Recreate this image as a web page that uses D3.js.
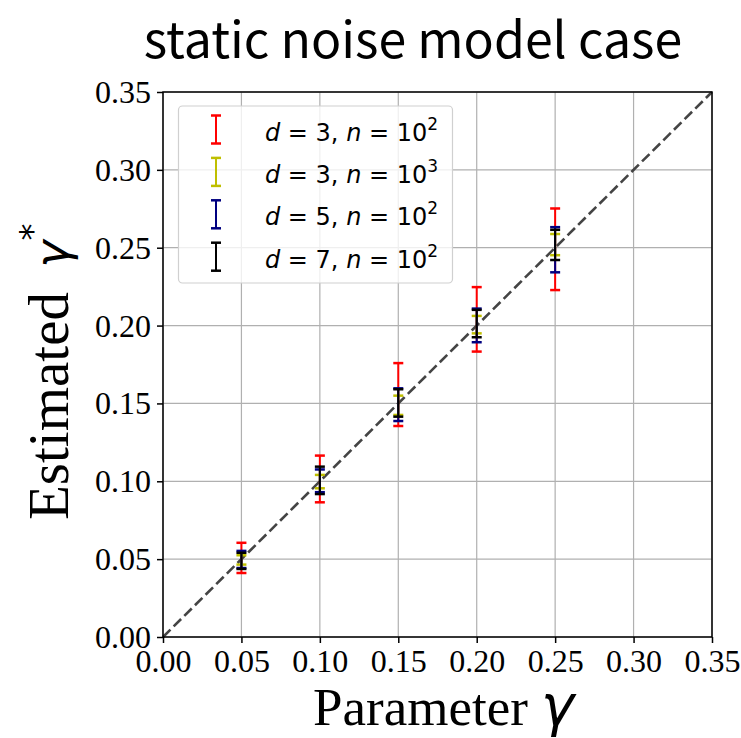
<!DOCTYPE html>
<html>
<head>
<meta charset="utf-8">
<script src="https://cdn.jsdelivr.net/npm/d3@7"></script>
<style>
  body { margin: 0; background: #fff; }
  svg { display: block; }
</style>
</head>
<body>
<svg width="741" height="738"></svg>
<script>

let svg = d3.select('svg');

// data: mean and half-width of each error bar
let params = [0.05, 0.10, 0.15, 0.20, 0.25];
let ticks = [0, 0.05, 0.10, 0.15, 0.20, 0.25, 0.30, 0.35];

let redMean    = [0.0508, 0.1015, 0.1557, 0.2040, 0.2490];
let redErr     = [0.0097, 0.0150, 0.0202, 0.0207, 0.0262];
let yellowMean = [0.0495, 0.0998, 0.1488, 0.2006, 0.2520];
let yellowErr  = [0.0030, 0.0043, 0.0062, 0.0056, 0.0068];
let blueMean   = [0.0498, 0.1003, 0.1492, 0.2001, 0.2487];
let blueErr    = [0.0055, 0.0073, 0.0105, 0.0108, 0.0145];
let blackMean  = [0.0489, 0.1006, 0.1503, 0.2013, 0.2518];
let blackErr   = [0.0052, 0.0088, 0.0088, 0.0088, 0.0097];

let series = [
    { d: 3, n: 2, color: '#ff0000', mean: redMean,    err: redErr },
    { d: 3, n: 3, color: '#bfbf00', mean: yellowMean, err: yellowErr },
    { d: 5, n: 2, color: '#000080', mean: blueMean,   err: blueErr },
    { d: 7, n: 2, color: '#000000', mean: blackMean,  err: blackErr }
];

let margin = { top: 92, right: 29, bottom: 101, left: 163 };
let width = +svg.attr('width');
let height = +svg.attr('height');

let x = d3.scaleLinear().domain([0, 0.35]).range([margin.left, width - margin.right]);
let y = d3.scaleLinear().domain([0, 0.35]).range([height - margin.bottom, margin.top]);

let serif = '"Liberation Serif", "Times New Roman", serif';
let sans = '"DejaVu Sans", sans-serif';

// grid
svg.append('g')
    .selectAll('line.vx')
    .data(ticks)
    .enter().append('line')
    .attr('x1', d => x(d)).attr('x2', d => x(d))
    .attr('y1', y(0)).attr('y2', y(0.35))
    .attr('stroke', '#b0b0b0').attr('stroke-width', 1.2);

svg.append('g')
    .selectAll('line.hy')
    .data(ticks)
    .enter().append('line')
    .attr('y1', d => y(d)).attr('y2', d => y(d))
    .attr('x1', x(0)).attr('x2', x(0.35))
    .attr('stroke', '#b0b0b0').attr('stroke-width', 1.2);

// y = x reference line
svg.append('line')
    .attr('x1', x(0)).attr('y1', y(0))
    .attr('x2', x(0.35)).attr('y2', y(0.35))
    .attr('stroke', '#444')
    .attr('stroke-width', 2.6)
    .attr('stroke-dasharray', '10.5,4.5');

// error bars
let capHalf = 5;
series.forEach(s => {
    let g = svg.append('g').attr('stroke', s.color);
    let pts = params.map((p, i) => ({ p: p, lo: s.mean[i] - s.err[i], hi: s.mean[i] + s.err[i] }));
    g.selectAll('line.bar')
        .data(pts)
        .enter().append('line')
        .attr('x1', d => x(d.p)).attr('x2', d => x(d.p))
        .attr('y1', d => y(d.lo)).attr('y2', d => y(d.hi))
        .attr('stroke-width', 2);
    ['lo', 'hi'].forEach(k => {
        g.selectAll('line.cap' + k)
            .data(pts)
            .enter().append('line')
            .attr('x1', d => x(d.p) - capHalf).attr('x2', d => x(d.p) + capHalf)
            .attr('y1', d => y(d[k])).attr('y2', d => y(d[k]))
            .attr('stroke-width', 2.5);
    });
});

// axes
let xAxis = svg.append('g')
    .attr('transform', 'translate(0,' + y(0) + ')')
    .call(d3.axisBottom(x).tickValues(ticks).tickFormat(d3.format('.2f')).tickSizeOuter(0).tickSize(6).tickPadding(4));
let yAxis = svg.append('g')
    .attr('transform', 'translate(' + x(0) + ',0)')
    .call(d3.axisLeft(y).tickValues(ticks).tickFormat(d3.format('.2f')).tickSizeOuter(0).tickSize(6).tickPadding(6));

[xAxis, yAxis].forEach(a => {
    a.select('.domain').remove();
    a.selectAll('.tick line').attr('stroke', '#000').attr('stroke-width', 1.5);
    a.selectAll('.tick text').attr('font-family', serif).attr('font-size', 32).attr('fill', '#000');
});
xAxis.selectAll('.tick text').attr('dy', '0.78em');
yAxis.selectAll('.tick text').attr('dy', '0.33em');

// frame
svg.append('rect')
    .attr('x', x(0)).attr('y', y(0.35))
    .attr('width', x(0.35) - x(0)).attr('height', y(0) - y(0.35))
    .attr('fill', 'none').attr('stroke', '#000').attr('stroke-width', 1.5);

// legend
let legend = svg.append('g');
legend.append('rect')
    .attr('x', 178.5).attr('y', 106).attr('width', 274).attr('height', 177)
    .attr('rx', 4)
    .attr('fill', 'rgba(255,255,255,0.8)')
    .attr('stroke', '#d0d0d0').attr('stroke-width', 1.2);

let row = legend.selectAll('g.row')
    .data(series)
    .enter().append('g')
    .attr('transform', (d, i) => 'translate(0,' + (129.5 + i * 42.4) + ')');

row.append('line')
    .attr('x1', 216).attr('x2', 216).attr('y1', -14).attr('y2', 14)
    .attr('stroke', d => d.color).attr('stroke-width', 2);
[-14, 14].forEach(v => {
    row.append('line')
        .attr('x1', 216 - capHalf).attr('x2', 216 + capHalf)
        .attr('y1', v).attr('y2', v)
        .attr('stroke', d => d.color).attr('stroke-width', 2.5);
});

let label = row.append('text')
    .attr('x', 265).attr('y', 11)
    .attr('font-family', sans)
    .attr('font-size', 24)
    .attr('fill', '#000');
label.append('tspan').attr('font-style', 'italic').text('d');
label.append('tspan').text(d => ' = ' + d.d + ', ');
label.append('tspan').attr('font-style', 'italic').text('n');
label.append('tspan').text(' = 10');
label.append('tspan').attr('font-size', 17).attr('dy', -11).text(d => d.n);

// axis titles
let xt = svg.append('text')
    .attr('x', 313).attr('y', 725)
    .attr('font-family', serif).attr('font-size', 53);
xt.append('tspan').text('Parameter ');
xt.append('tspan').attr('font-family', sans).attr('font-style', 'italic').attr('font-size', 56).text('γ');

let yt = svg.append('text')
    .attr('transform', 'translate(68,520) rotate(-90)')
    .attr('font-family', serif).attr('font-size', 57);
yt.append('tspan').text('Estimated ');
yt.append('tspan').attr('font-family', sans).attr('font-style', 'italic').attr('font-size', 46).attr('dx', 10).text('γ');
yt.append('tspan').attr('font-family', sans).attr('font-size', 34).attr('dy', -24).text('*');

// title
svg.append('text')
    .attr('x', 413).attr('y', 58)
    .attr('text-anchor', 'middle')
    .attr('font-family', '"Noto Sans CJK JP", "Noto Sans", sans-serif')
    .attr('font-size', 50)
    .attr('fill', '#000')
    .text('static noise model case');

</script>
</body>
</html>
